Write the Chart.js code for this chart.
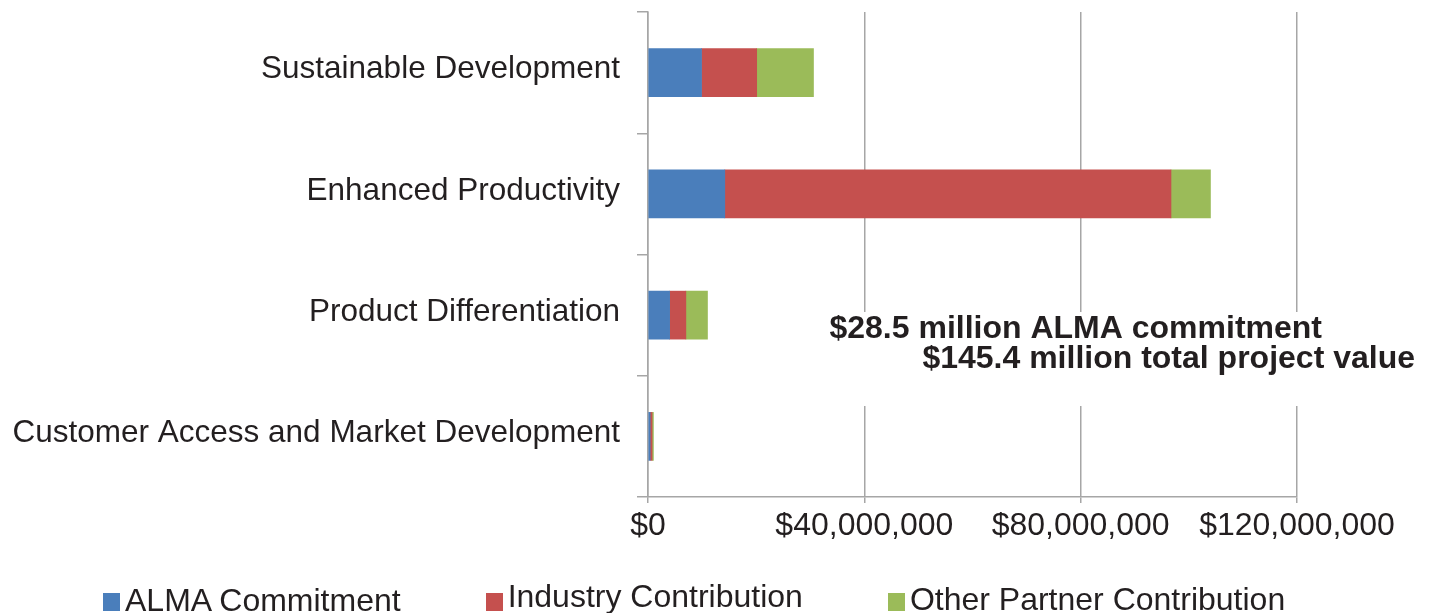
<!DOCTYPE html>
<html>
    <head>
        <meta charset="UTF-8" />
        <title>ALMA commitment by category</title>
        <style type="text/css">
            body { margin: 0; background: #fff; }
            .chartBox { position: relative; width: 1430px; height: 613px; }
            #legend {
                position: absolute; left: 103px; top: 584px;
                display: flex; align-items: flex-end;
                font-family: "Liberation Sans", Arial, sans-serif; font-size: 32px; color: #231f20;
                line-height: 32px;
            }
            #legend .item { display: flex; align-items: flex-end; margin-right: 85px; white-space: nowrap; }
            #legend .box { width: 17px; height: 18px; margin-right: 5px; margin-bottom: 5px; }
            #legend .item:nth-child(2) .txt { transform: translateY(-4px); }
            #legend .item:nth-child(3) .txt { transform: translateY(-1px); }
        </style>
    </head>
    <body>
        <div class="chartBox">
            <canvas id="myChart" width="1430" height="613"></canvas>
            <div id="legend"></div>
        </div>

        <script src="https://cdn.jsdelivr.net/npm/chart.js"></script>
        <script>
            // categories, top to bottom
            const categories = ['Sustainable Development', 'Enhanced Productivity', 'Product Differentiation', 'Customer Access and Market Development'];
            // dollars
            const almaCommitment = [9900000, 14200000, 4000000, 400000];
            const industryContribution = [10200000, 82500000, 3000000, 350000];
            const otherContribution = [10500000, 7300000, 4000000, 250000];
            const seriesNames = ['ALMA Commitment', 'Industry Contribution', 'Other Partner Contribution'];
            const seriesColors = ['#4a7ebb', '#c5504e', '#9bbb59'];
            const xTicks = [0, 40000000, 80000000, 120000000];
            const noteLines = ['$28.5 million ALMA commitment', '$145.4 million total project value'];

            const textColor = '#231f20';
            const gridColor = '#a6a6a6';
            const fontFamily = '"Liberation Sans", Arial, sans-serif';

            const data = {
                labels: categories,
                datasets: [almaCommitment, industryContribution, otherContribution].map((vals, i) => ({
                    label: seriesNames[i],
                    data: vals,
                    backgroundColor: seriesColors[i],
                    borderWidth: 0,
                    barThickness: 48
                }))
            };

            // text box over the gridlines
            const notePlugin = {
                id: 'note',
                afterDraw(chart) {
                    const c = chart.ctx;
                    c.save();
                    c.fillStyle = '#fff';
                    c.fillRect(822, 312, 602, 94);
                    c.font = 'bold 32px ' + fontFamily;
                    c.fillStyle = textColor;
                    c.textAlign = 'right';
                    c.fillText(noteLines[0], 1322, 338);
                    c.fillText(noteLines[1], 1415, 368);
                    c.restore();
                }
            };

            const config = {
                type: 'bar',
                data,
                options: {
                    indexAxis: 'y',
                    responsive: false,
                    animation: false,
                    layout: { padding: { top: 12, right: 133, left: 0, bottom: 0 } },
                    plugins: {
                        legend: { display: false },
                        tooltip: { enabled: false }
                    },
                    scales: {
                        x: {
                            stacked: true,
                            min: 0,
                            max: 120000000,
                            afterBuildTicks: s => { s.ticks = xTicks.map(v => ({ value: v })); },
                            afterFit: s => { s.height = 116; },
                            grid: { color: gridColor, lineWidth: 1.5, tickLength: 6 },
                            border: { color: gridColor, width: 1.5 },
                            ticks: {
                                font: { family: fontFamily, size: 32 }, color: textColor, padding: 4, maxRotation: 0,
                                callback: v => '$' + Number(v).toLocaleString('en-US')
                            }
                        },
                        y: {
                            stacked: true,
                            afterFit: s => { s.width = 648; s.paddingTop = 0; s.paddingBottom = 0; },
                            grid: { drawOnChartArea: false, color: gridColor, lineWidth: 1.5, tickLength: 11 },
                            border: { color: gridColor, width: 1.5 },
                            ticks: { font: { family: fontFamily, size: 31.5 }, color: textColor, padding: 17, labelOffset: -3 }
                        }
                    }
                },
                plugins: [notePlugin]
            };

            const myChart = new Chart(document.getElementById('myChart'), config);

            // legend under the chart
            const legend = document.getElementById('legend');
            seriesNames.forEach((name, i) => {
                const item = document.createElement('div');
                item.className = 'item';
                item.innerHTML = '<span class="box" style="background:' + seriesColors[i] + '"></span><span class="txt">' + name + '</span>';
                legend.appendChild(item);
            });
        </script>
    </body>
</html>
